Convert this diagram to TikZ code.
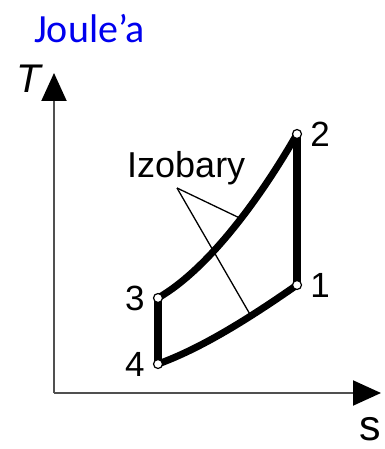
\documentclass[tikz,border=0pt]{standalone}
\usepackage{fontspec}
\setmainfont{Liberation Sans}
\newfontfamily\titlefont{Carlito}
\usepackage{xcolor}
\usetikzlibrary{arrows.meta, positioning}
\definecolor{ctitle}{HTML}{0000EE}
\definecolor{caxis}{HTML}{505050}

\begin{document}
\begin{tikzpicture}[
    x=1pt, y=-1pt,
    axis/.style={-{Triangle[length=28pt, width=25pt, color=black]},
        line width=2pt, draw=caxis},
    cycleline/.style={line width=7pt, draw=black},
    isoline/.style={line width=8pt, draw=black},
    leader/.style={line width=1.3pt, draw=black},
    pt/.style={circle, draw=black, fill=white, line width=1.2pt,
        minimum size=9pt, inner sep=0pt},
    numlbl/.style={font=\fontsize{35}{40}\selectfont, inner sep=0pt},
    axlbl/.style={font=\fontsize{40}{46}\selectfont\itshape, inner sep=0pt},
]
\useasboundingbox (0,0) rectangle (384,449);

% --- Title -------------------------------------------------------------------
\node[anchor=base west, inner sep=0pt, text=ctitle,
    font=\titlefont\fontsize{40}{48}\selectfont] (title) at (34,43)
    {Joule’a};

% --- Axes --------------------------------------------------------------------
\coordinate (orig) at (54,393);
\coordinate (ttip) at (54,73);
\coordinate (stip) at (381,393);
\draw[axis] (orig) -- (ttip);
\draw[axis] (orig) -- (stip);
\node[axlbl] (tlbl) at (29,79) {T};
\node[axlbl, font=\fontsize{43}{48}\selectfont] (slbl) at (370,429) {s};

% --- Cycle points ------------------------------------------------------------
\coordinate (c1) at (297,285);
\coordinate (c2) at (297,134);
\coordinate (c3) at (158,298);
\coordinate (c4) at (158,364);

% --- Cycle lines (isobars curved, others straight) ---------------------------
\draw[cycleline] (c3) .. controls (210,268) and (262,195) .. (c2)
    coordinate[pos=0.55] (izup);
\draw[cycleline] (c4) .. controls (205,347) and (256,313.5) .. (c1)
    coordinate[pos=0.65] (izlow);
\draw[isoline] (c2) -- (c1);
\draw[isoline] (c3) -- (c4);

% --- Label for the isobars ---------------------------------------------------
\node[anchor=base west, inner sep=0pt, font=\fontsize{36}{40}\selectfont]
    (izo) at (127,177) {Izobary};
\coordinate (izfoot) at (177,188);
\draw[leader] (izfoot) -- (izup);
\draw[leader] (izfoot) -- (izlow);

% --- Point markers and numbers -----------------------------------------------
\node[pt] (p1) at (c1) {};
\node[pt] (p2) at (c2) {};
\node[pt] (p3) at (c3) {};
\node[pt] (p4) at (c4) {};
\node[numlbl, right=8pt of p1] (n1) {1};
\node[numlbl, right=8pt of p2] (n2) {2};
\node[numlbl, left=8pt of p3] (n3) {3};
\node[numlbl, left=8pt of p4] (n4) {4};

\end{tikzpicture}
\end{document}
